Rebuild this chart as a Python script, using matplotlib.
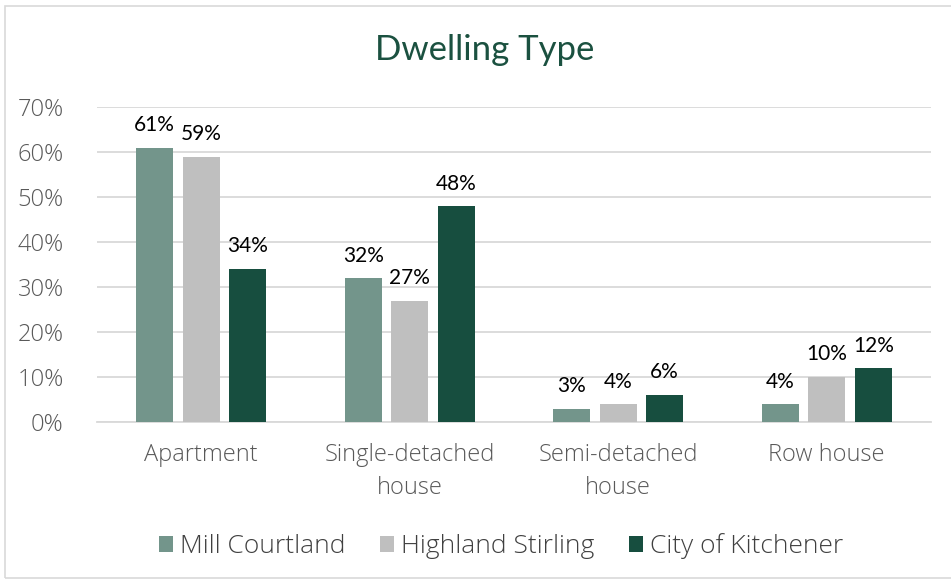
import matplotlib
matplotlib.use("Agg")
import matplotlib.pyplot as plt
from matplotlib.patches import Rectangle
import numpy as np

categories = ["Apartment", "Single-detached\nhouse", "Semi-detached\nhouse", "Row house"]
series_names = ["Mill Courtland", "Highland Stirling", "City of Kitchener"]
mill_courtland = [61, 32, 3, 4]
highland_stirling = [59, 27, 4, 10]
city_of_kitchener = [34, 48, 6, 12]
y_ticks = [0, 10, 20, 30, 40, 50, 60, 70]

colors = ["#73958B", "#BFBFBF", "#174E3F"]
series = [mill_courtland, highland_stirling, city_of_kitchener]

axis_font = {"family": "Open Sans", "weight": "light"}

fig = plt.figure(figsize=(9.51, 5.80), dpi=100)
W, H = 951, 580
ax = fig.add_axes([97 / W, 1 - 422 / H, (931 - 97) / W, (422 - 107) / H])

x = np.arange(len(categories))
bar_w = 0.177
step = 0.223
for i, (vals, col, name) in enumerate(zip(series, colors, series_names)):
    pos = x + (i - 1) * step
    ax.bar(pos, vals, width=bar_w, color=col, label=name, zorder=3)
    for xp, v in zip(pos, vals):
        ax.annotate(f"{v}%", (xp, v), xytext=(0, 9), textcoords="offset points",
                    ha="center", va="bottom", fontsize=15, color="#000000",
                    family="Lato")

ax.set_xlim(-0.5, len(categories) - 0.5)
ax.set_ylim(0, 70)
ax.set_yticks(y_ticks)
ax.set_yticklabels([f"{t}%" for t in y_ticks], fontsize=17, color="#595959",
                   **axis_font)
ax.set_xticks(x)
ax.set_xticklabels(categories, fontsize=17, color="#595959", linespacing=1.5,
                   **axis_font)
ax.tick_params(axis="both", length=0)
ax.tick_params(axis="y", pad=24)
ax.tick_params(axis="x", pad=15)
ax.grid(axis="y", color="#D9D9D9", linewidth=1.3, zorder=0)
for s in ["top", "right", "left"]:
    ax.spines[s].set_visible(False)
ax.spines["bottom"].set_color("#D9D9D9")
ax.spines["bottom"].set_linewidth(1.3)
ax.spines["bottom"].set_zorder(1)

fig.text(485 / W, 1 - 50 / H, "Dwelling Type", ha="center", va="center",
         fontsize=25, color="#1B5140", family="Lato")

leg = fig.legend(loc="center", bbox_to_anchor=(501 / W, 1 - 546 / H), ncol=3,
                 frameon=False,
                 prop={"family": "Open Sans", "weight": "light", "size": 19},
                 handlelength=0.55, handleheight=0.55, handletextpad=0.25,
                 columnspacing=1.3)
for t in leg.get_texts():
    t.set_color("#404040")

fig.patches.append(Rectangle((5 / W, 0.004), 1.0, 1 - 6 / H - 0.004,
                             transform=fig.transFigure, fill=False,
                             edgecolor="#D9D9D9", linewidth=1.2))

fig.savefig("out.png", dpi=100)
